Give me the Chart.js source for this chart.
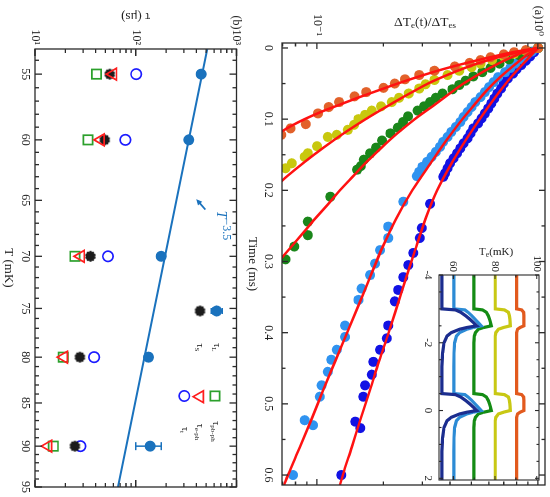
<!DOCTYPE html>
<html>
<head>
<meta charset="utf-8">
<script src="https://cdn.jsdelivr.net/npm/chart.js@4.4.1/dist/chart.umd.min.js"></script>
<style>
  html, body { margin: 0; padding: 0; overflow: hidden; background: #fff; width: 550px; height: 497px; }
  /* the figure is laid out upright and then turned a quarter turn clockwise */
  #fig { position: absolute; left: 0; top: 0; width: 497px; height: 550px;
         transform-origin: 0 0; transform: translate(550px, 0) rotate(90deg); }
  #fig canvas { position: absolute; }
</style>
</head>
<body>
<div id="fig">
  <canvas id="cA" width="497" height="310" style="left:0;top:0;width:497px;height:310px"></canvas>
  <canvas id="cB" width="497" height="245" style="left:0;top:305px;width:497px;height:245px"></canvas>
  <canvas id="cI" width="265" height="135" style="left:225px;top:0;width:265px;height:135px"></canvas>
</div>
<script>
// ---- panel (a): relaxation curves, time in ms, ratio dTe(t)/dTes ----
const ORANGE_T = [0, 0.003, 0.006, 0.009, 0.013, 0.017, 0.021, 0.026, 0.032, 0.038, 0.044, 0.050, 0.056, 0.062, 0.068, 0.076, 0.083, 0.092, 0.107, 0.113, 0.122]
const ORANGE_V = [1.0, 0.88, 0.78, 0.70, 0.61, 0.55, 0.49, 0.42, 0.34, 0.29, 0.25, 0.225, 0.20, 0.167, 0.148, 0.126, 0.113, 0.101, 0.089, 0.076, 0.069]
const YELLOW_T = [0, 0.004, 0.008, 0.012, 0.017, 0.022, 0.027, 0.032, 0.038, 0.045, 0.051, 0.057, 0.064, 0.070, 0.076, 0.082, 0.088, 0.094, 0.100, 0.108, 0.115, 0.122, 0.125, 0.138, 0.148, 0.153, 0.162, 0.169]
const YELLOW_V = [1.0, 0.88, 0.78, 0.70, 0.62, 0.55, 0.50, 0.44, 0.39, 0.34, 0.31, 0.29, 0.26, 0.235, 0.218, 0.195, 0.177, 0.165, 0.154, 0.147, 0.138, 0.123, 0.112, 0.100, 0.091, 0.088, 0.077, 0.072]
const GREEN_T = [0, 0.005, 0.010, 0.016, 0.022, 0.028, 0.034, 0.040, 0.046, 0.052, 0.058, 0.064, 0.070, 0.076, 0.082, 0.088, 0.096, 0.104, 0.112, 0.120, 0.130, 0.140, 0.148, 0.157, 0.166, 0.171, 0.209, 0.244, 0.263, 0.279, 0.297]
const GREEN_V = [1.0, 0.90, 0.82, 0.74, 0.67, 0.61, 0.56, 0.51, 0.47, 0.44, 0.41, 0.37, 0.345, 0.325, 0.305, 0.285, 0.258, 0.245, 0.232, 0.215, 0.197, 0.185, 0.174, 0.163, 0.158, 0.152, 0.115, 0.091, 0.091, 0.079, 0.072]
const LBLUE_T = [0, 0.005, 0.010, 0.016, 0.022, 0.028, 0.034, 0.041, 0.048, 0.055, 0.062, 0.069, 0.076, 0.083, 0.090, 0.097, 0.104, 0.111, 0.118, 0.125, 0.132, 0.139, 0.146, 0.153, 0.160, 0.167, 0.174, 0.180, 0.216, 0.251, 0.267, 0.284, 0.303, 0.319, 0.338, 0.354, 0.390, 0.406, 0.424, 0.438, 0.455, 0.474, 0.490, 0.523, 0.530, 0.600]
const LBLUE_V = [1.0, 0.94, 0.89, 0.84, 0.79, 0.75, 0.71, 0.66, 0.63, 0.60, 0.575, 0.55, 0.52, 0.50, 0.48, 0.46, 0.445, 0.425, 0.405, 0.39, 0.372, 0.36, 0.345, 0.33, 0.315, 0.30, 0.29, 0.283, 0.246, 0.21, 0.21, 0.193, 0.183, 0.174, 0.159, 0.154, 0.134, 0.134, 0.123, 0.116, 0.112, 0.105, 0.103, 0.088, 0.096, 0.078]
const DBLUE_T = [0, 0.006, 0.012, 0.018, 0.024, 0.030, 0.036, 0.043, 0.050, 0.057, 0.064, 0.071, 0.078, 0.085, 0.092, 0.099, 0.106, 0.113, 0.120, 0.127, 0.134, 0.141, 0.148, 0.155, 0.162, 0.169, 0.176, 0.181, 0.219, 0.253, 0.267, 0.288, 0.305, 0.322, 0.340, 0.356, 0.390, 0.408, 0.424, 0.441, 0.459, 0.474, 0.490, 0.525, 0.534, 0.600]
const DBLUE_V = [1.0, 0.96, 0.92, 0.88, 0.84, 0.80, 0.77, 0.73, 0.70, 0.68, 0.655, 0.635, 0.615, 0.595, 0.575, 0.555, 0.535, 0.51, 0.495, 0.48, 0.46, 0.445, 0.43, 0.415, 0.40, 0.39, 0.38, 0.373, 0.325, 0.298, 0.292, 0.273, 0.259, 0.246, 0.233, 0.225, 0.21, 0.207, 0.193, 0.18, 0.177, 0.165, 0.162, 0.149, 0.157, 0.129]

// red fit curves
const ORANGE_FIT_T = [0, 0.005, 0.01, 0.02, 0.03, 0.04, 0.05, 0.06, 0.07, 0.08, 0.09, 0.10, 0.11, 0.12, 0.13]
const ORANGE_FIT_V = [1, 0.80, 0.67, 0.49, 0.37, 0.29, 0.232, 0.188, 0.153, 0.126, 0.104, 0.088, 0.076, 0.067, 0.059]
const YELLOW_FIT_T = [0, 0.005, 0.01, 0.02, 0.03, 0.04, 0.05, 0.06, 0.07, 0.08, 0.09, 0.10, 0.12, 0.14, 0.16, 0.18, 0.19]
const YELLOW_FIT_V = [1, 0.84, 0.72, 0.555, 0.45, 0.375, 0.318, 0.277, 0.242, 0.213, 0.1875, 0.166, 0.132, 0.107, 0.088, 0.0734, 0.0676]
const GREEN_FIT_T = [0, 0.005, 0.01, 0.02, 0.03, 0.04, 0.05, 0.06, 0.08, 0.10, 0.12, 0.14, 0.16, 0.18, 0.20, 0.22, 0.24, 0.26, 0.28, 0.30, 0.31]
const GREEN_FIT_V = [1, 0.88, 0.80, 0.68, 0.59, 0.52, 0.46, 0.415, 0.34, 0.277, 0.231, 0.196, 0.168, 0.146, 0.127, 0.112, 0.098, 0.0865, 0.0762, 0.0671, 0.063]
const LBLUE_FIT_T = [0, 0.01, 0.02, 0.04, 0.06, 0.08, 0.10, 0.13, 0.16, 0.20, 0.24, 0.28, 0.32, 0.36, 0.40, 0.44, 0.48, 0.52, 0.56, 0.60, 0.614]
const LBLUE_FIT_V = [1, 0.89, 0.81, 0.68, 0.585, 0.515, 0.455, 0.385, 0.33, 0.27, 0.228, 0.198, 0.175, 0.155, 0.137, 0.121, 0.107, 0.095, 0.084, 0.074, 0.071]
const DBLUE_FIT_T = [0, 0.02, 0.04, 0.06, 0.08, 0.10, 0.13, 0.16, 0.20, 0.24, 0.28, 0.32, 0.36, 0.40, 0.44, 0.48, 0.52, 0.56, 0.60, 0.614]
const DBLUE_FIT_V = [1, 0.87, 0.76, 0.675, 0.605, 0.545, 0.47, 0.41, 0.35, 0.31, 0.281, 0.255, 0.232, 0.211, 0.191, 0.174, 0.158, 0.144, 0.131, 0.127]

const TIME_MAJOR = [0, 0.1, 0.2, 0.3, 0.4, 0.5, 0.6]
const TIME_LABELS = ['0', '0.1', '0.2', '0.3', '0.4', '0.5', '0.6']
const TIME_MINOR = [0.05, 0.15, 0.25, 0.35, 0.45, 0.55]
const RATIO_MAJOR = [0.1, 1]
const RATIO_LABELS = ['10⁻¹', '(a)10⁰']
const RATIO_MINOR = [0.07, 0.08, 0.09, 0.2, 0.3, 0.4, 0.5, 0.6, 0.7, 0.8, 0.9]

// ---- inset: electron temperature traces, time in ms ----
const INSET_T = [-4, -3.0, -2.97, -2.9, -2.8, -2.7, -2.6, -2.5, -2.45, -2.4, -2.3, -2.2, -2.0, -1.7, -1.3,
                 -0.5, -0.47, -0.4, -0.3, -0.2, -0.1, 0.0, 0.05, 0.1, 0.2, 0.3, 0.5, 0.8, 1.2, 2.05]
const TE_55 = [54.5, 54.5, 61, 63.5, 65.8, 67.8, 69.6, 71.2, 66.5, 63, 59, 57, 55.5, 54.8, 54.5,
               54.5, 61, 63.5, 65.8, 67.8, 69.6, 71.2, 66.5, 63, 59, 57, 55.5, 54.8, 54.5, 54.5]
const TE_60 = [60.2, 60.2, 65.5, 67, 68.8, 70.3, 71.8, 73.3, 69.5, 66.5, 63, 61.5, 60.6, 60.3, 60.2,
               60.2, 65.5, 67, 68.8, 70.3, 71.8, 73.3, 69.5, 66.5, 63, 61.5, 60.6, 60.3, 60.2, 60.2]
const TE_70 = [69.8, 69.8, 74, 75.8, 76.7, 77.3, 77.8, 78.2, 74.5, 72, 70.6, 70.1, 69.8, 69.8, 69.8,
               69.8, 74, 75.8, 76.7, 77.3, 77.8, 78.2, 74.5, 72, 70.6, 70.1, 69.8, 69.8, 69.8, 69.8]
const TE_80 = [80.1, 80.1, 84.5, 86.4, 86.9, 87.1, 87.2, 87.3, 84, 81.6, 80.4, 80.1, 80.1, 80.1, 80.1,
               80.1, 84.5, 86.4, 86.9, 87.1, 87.2, 87.3, 84, 81.6, 80.4, 80.1, 80.1, 80.1, 80.1, 80.1]
const TE_90 = [90.4, 90.4, 92.8, 93.7, 93.8, 93.8, 93.8, 93.8, 92, 90.8, 90.4, 90.4, 90.4, 90.4, 90.4,
               90.4, 92.8, 93.7, 93.8, 93.8, 93.8, 93.8, 92, 90.8, 90.4, 90.4, 90.4, 90.4, 90.4, 90.4]
const INSET_TIME_MAJOR = [-4, -2, 0, 2]
const INSET_TIME_LABELS = ['-4', '-2', '0', '2']
const INSET_TIME_MINOR = [-3.5, -3, -2.5, -1.5, -1, -0.5, 0.5, 1, 1.5]
const INSET_TE_MAJOR = [60, 80, 100]
const INSET_TE_LABELS = ['60', '80', '100']
const INSET_TE_MINOR = [70, 90]

// ---- panel (b): time constants vs temperature ----
const T_MK = [55, 60, 70, 80, 90]
const TAU_L = [446, 336, 179, 134, 139]
const TAU_L_LO = [null, null, null, null, 100]
const TAU_L_HI = [null, null, null, null, 179]
const TAU_S = [55.2, 49.2, 35.5, 27.9, 24.9]
const TAU_EPH = [59.6, 45.0, 28.5, 19.4, 13.5]
const TAU_PBPH = [40.8, 33.6, 24.9, 19.1, 15.2]
const TAU_T = [101, 78.9, 53.0, 38.6, 28.3]
const FIT_T = [53.2, 95]
const FIT_TAU = [514, 66.7]
const ARROW_FROM = [65.8, 490]
const ARROW_TO = [64.9, 399]
const POWER_LABEL_AT = [65.9, 690]

const T_MAJOR = [55, 60, 65, 70, 75, 80, 85, 90, 95]
const T_LABELS = ['55', '60', '65', '70', '75', '80', '85', '90', '95']
const T_MINOR = [54, 56, 57, 58, 59, 61, 62, 63, 64, 66, 67, 68, 69, 71, 72, 73, 74, 76, 77, 78, 79,
                 81, 82, 83, 84, 86, 87, 88, 89, 91, 92, 93, 94]
const TAU_MAJOR = [10, 100, 1000]
const TAU_LABELS = ['10¹', '10²', '(b)10³']
const TAU_MINOR = [20, 30, 40, 50, 60, 70, 80, 90, 200, 300, 400, 500, 600, 700, 800, 900]

const SERIF = "'Liberation Serif', 'DejaVu Serif', serif"
const INK = '#222'
const TAU_L_COLOR = '#1a72bd'

Chart.defaults.font.family = SERIF
Chart.defaults.color = INK

function pts(xs, ys) { return xs.map((x, i) => ({x: x, y: ys[i]})) }

// text with sub/superscripts, centred (or left aligned) on x, vertically centred on y
function rich(ctx, parts, x, y, size, color, rot, align) {
  ctx.save()
  ctx.translate(x, y)
  ctx.rotate(rot || 0)
  ctx.fillStyle = color
  ctx.textBaseline = 'middle'
  ctx.textAlign = 'left'
  const fontOf = p => (p.it ? 'italic ' : '') +
    (p.size || ((p.sub || p.sup) ? Math.round(size * 0.7) : size)) + 'px ' + SERIF
  let w = 0
  for (const p of parts) { ctx.font = fontOf(p); w += ctx.measureText(p.t).width }
  let cx = align === 'left' ? 0 : -w / 2
  for (const p of parts) {
    ctx.font = fontOf(p)
    const dy = p.sub ? size * 0.3 : (p.sup ? -size * 0.4 : 0)
    ctx.fillText(p.t, cx, dy)
    cx += ctx.measureText(p.t).width
  }
  ctx.restore()
}

// filled round marker with small bumps, used for tau_S
function gearCanvas(r, color) {
  const c = document.createElement('canvas')
  const s = Math.ceil(r * 2 + 2)
  c.width = c.height = s
  const g = c.getContext('2d')
  g.fillStyle = color
  g.beginPath(); g.arc(s / 2, s / 2, r * 0.72, 0, 2 * Math.PI); g.fill()
  for (let i = 0; i < 10; i++) {
    const a = i * Math.PI / 5
    g.beginPath()
    g.arc(s / 2 + Math.cos(a) * r * 0.74, s / 2 + Math.sin(a) * r * 0.74, r * 0.26, 0, 2 * Math.PI)
    g.fill()
  }
  return c
}
const GEAR = gearCanvas(5.5, '#1c1c1c')

const useTicks = vals => s => { s.ticks = vals.map(v => ({value: v})) }
function fixBox(size) {
  return s => {
    if (s.isHorizontal()) s.height = size; else s.width = size
    s.paddingLeft = s.paddingRight = s.paddingTop = s.paddingBottom = 0
  }
}

// frame round the plot area with inward ticks on all four sides
const frameTicks = {
  id: 'frameTicks',
  afterDatasetsDraw(chart, args, o) {
    const {ctx, chartArea: a, scales} = chart
    ctx.save()
    ctx.strokeStyle = '#2a2a2a'
    ctx.lineWidth = o.width
    ctx.strokeRect(a.left, a.top, a.right - a.left, a.bottom - a.top)
    const mark = (scale, vals, len) => {
      for (const v of vals) {
        const p = scale.getPixelForValue(v)
        ctx.beginPath()
        if (scale.isHorizontal()) {
          ctx.moveTo(p, a.bottom); ctx.lineTo(p, a.bottom - len)
          ctx.moveTo(p, a.top); ctx.lineTo(p, a.top + len)
        } else {
          ctx.moveTo(a.left, p); ctx.lineTo(a.left + len, p)
          ctx.moveTo(a.right, p); ctx.lineTo(a.right - len, p)
        }
        ctx.stroke()
      }
    }
    mark(scales.x, o.xMajor, o.major); mark(scales.x, o.xMinor, o.minor)
    mark(scales.y, o.yMajor, o.major); mark(scales.y, o.yMinor, o.minor)
    ctx.restore()
  }
}

const baseOptions = {
  responsive: false,
  animation: false,
  events: [],
}

function axis(type, min, max, major, labels, box, tickPad, fontSize) {
  return {
    type: type, min: min, max: max,
    grid: {display: false, drawTicks: false},
    border: {display: false},
    ticks: {autoSkip: false, maxRotation: 0, padding: tickPad, color: INK,
            font: {family: SERIF, size: fontSize}, callback: (v, i) => labels[i]},
    afterBuildTicks: useTicks(major),
    afterFit: fixBox(box),
  }
}

// ---------- panel (a) ----------
const SERIES_A = [
  {t: ORANGE_T, v: ORANGE_V, ft: ORANGE_FIT_T, fv: ORANGE_FIT_V, color: '#e2612a'},
  {t: YELLOW_T, v: YELLOW_V, ft: YELLOW_FIT_T, fv: YELLOW_FIT_V, color: '#c8c80e'},
  {t: GREEN_T, v: GREEN_V, ft: GREEN_FIT_T, fv: GREEN_FIT_V, color: '#1a861a'},
  {t: LBLUE_T, v: LBLUE_V, ft: LBLUE_FIT_T, fv: LBLUE_FIT_V, color: '#2f93f0'},
  {t: DBLUE_T, v: DBLUE_V, ft: DBLUE_FIT_T, fv: DBLUE_FIT_V, color: '#1212e4'},
]
const fitSets = SERIES_A.map(s => ({
  data: pts(s.ft, s.fv), showLine: true, borderColor: '#ff1212', borderWidth: 2.5,
  pointRadius: 0, cubicInterpolationMode: 'monotone', clip: 0,
}))
const dotSets = SERIES_A.map(s => ({
  data: pts(s.t, s.v), showLine: false, pointRadius: 5, pointHoverRadius: 5,
  pointBackgroundColor: s.color, pointBorderWidth: 0,
}))

const xA = axis('linear', -0.007, 0.614, TIME_MAJOR, TIME_LABELS, 42, 7, 12)
xA.title = {display: true, text: 'Time (ms)', color: INK, font: {family: SERIF, size: 13}, padding: {top: 0, bottom: 5}}
const yA = axis('logarithmic', 0.0695, 1.076, RATIO_MAJOR, RATIO_LABELS, 43, 7, 12)

new Chart(document.getElementById('cA'), {
  type: 'scatter',
  data: {datasets: fitSets.concat(dotSets)},
  options: Object.assign({}, baseOptions, {
    layout: {padding: {top: 5, right: 12, left: 0, bottom: 0}},
    scales: {x: xA, y: yA},
    plugins: {
      legend: {display: false}, tooltip: {enabled: false},
      frameTicks: {width: 1.3, major: 6, minor: 3.5, xMajor: TIME_MAJOR, xMinor: TIME_MINOR,
                   yMajor: RATIO_MAJOR, yMinor: RATIO_MINOR},
    },
  }),
  plugins: [frameTicks, {
    id: 'titleA',
    afterDraw(chart) {
      rich(chart.ctx, [{t: 'ΔT'}, {t: 'e', sub: true}, {t: '(t)/ΔT'}, {t: 'es', sub: true}],
           22, 125, 13.5, INK, -Math.PI / 2)
    }
  }],
})

// ---------- inset ----------
const INSET_SERIES = [
  {v: TE_55, color: '#1b2d8f'},
  {v: TE_60, color: '#2c8bd5'},
  {v: TE_70, color: '#148c14'},
  {v: TE_80, color: '#c8c814'},
  {v: TE_90, color: '#e25a1e'},
]
new Chart(document.getElementById('cI'), {
  type: 'scatter',
  data: {datasets: INSET_SERIES.map(s => ({
    data: pts(INSET_T, s.v), showLine: true, borderColor: s.color, borderWidth: 3.2, pointRadius: 0, clip: 0,
  }))},
  options: Object.assign({}, baseOptions, {
    layout: {padding: {top: 11, right: 10, left: 0, bottom: 0}},
    scales: {
      x: axis('linear', -4, 2.05, INSET_TIME_MAJOR, INSET_TIME_LABELS, 24, 4.4, 11),
      y: axis('linear', 53.1, 101.1, INSET_TE_MAJOR, INSET_TE_LABELS, 50, 3, 11),
    },
    plugins: {
      legend: {display: false}, tooltip: {enabled: false},
      frameTicks: {width: 1.1, major: 4, minor: 2.5, xMajor: INSET_TIME_MAJOR, xMinor: INSET_TIME_MINOR,
                   yMajor: INSET_TE_MAJOR, yMinor: INSET_TE_MINOR},
    },
  }),
  plugins: [frameTicks, {
    id: 'insetBits',
    beforeDraw(chart) {
      const {ctx, chartArea: a} = chart
      ctx.save(); ctx.fillStyle = '#fff'
      ctx.fillRect(a.left, a.top, a.right - a.left, a.bottom - a.top)
      ctx.restore()
    },
    afterDraw(chart) {
      rich(chart.ctx, [{t: 'T'}, {t: 'e', sub: true}, {t: '(mK)'}], 27, 54, 11, INK, -Math.PI / 2)
    }
  }],
})

// ---------- panel (b) ----------
const LEGEND_B = [
  {kind: 'L', x: 311, y: 28.3, lx: 347.5, ly: 28.5, text: [{t: 'τ'}, {t: 'L', sub: true}]},
  {kind: 'S', x: 311, y: 45, lx: 347.5, ly: 45.5, text: [{t: 'τ'}, {t: 'S', sub: true}]},
  {kind: 'pbph', x: 396, y: 30, lx: 431.5, ly: 29, text: [{t: 'τ'}, {t: 'pb-ph', sub: true}]},
  {kind: 'eph', x: 396.7, y: 45, lx: 432, ly: 45, text: [{t: 'τ'}, {t: 'e-ph', sub: true}]},
  {kind: 't', x: 396, y: 60.7, lx: 430, ly: 60.5, text: [{t: 'τ'}, {t: 't', sub: true}]},
]
const MARK = {
  L: {pointStyle: 'circle', radius: 5.5, fill: TAU_L_COLOR, stroke: TAU_L_COLOR, bw: 0},
  S: {pointStyle: GEAR, radius: 5.5, fill: '#1c1c1c', stroke: '#1c1c1c', bw: 0},
  pbph: {pointStyle: 'rect', radius: 6.6, fill: 'rgba(0,0,0,0)', stroke: '#2ca02c', bw: 1.7},
  eph: {pointStyle: 'triangle', radius: 6.8, rotation: 180, fill: 'rgba(0,0,0,0)', stroke: '#ff1e1e', bw: 1.7},
  t: {pointStyle: 'circle', radius: 5.2, fill: 'rgba(0,0,0,0)', stroke: '#1c1cff', bw: 1.7},
}
function markerSet(vals, m) {
  return {
    data: pts(T_MK, vals), showLine: false, pointStyle: m.pointStyle, pointRadius: m.radius,
    pointHoverRadius: m.radius, pointRotation: m.rotation || 0,
    pointBackgroundColor: m.fill, pointBorderColor: m.stroke, pointBorderWidth: m.bw,
  }
}

const xB = axis('logarithmic', 53.2, 95, T_MAJOR, T_LABELS, 35, 3, 12)
xB.title = {display: true, text: 'T (mK)', color: INK, font: {family: SERIF, size: 13}, padding: {top: 0, bottom: 1}}
const yB = axis('logarithmic', 10, 1000, TAU_MAJOR, TAU_LABELS, 49, 4, 12)

function errBar(ctx, x, y0, y1, cap) {
  ctx.beginPath()
  ctx.moveTo(x, y0); ctx.lineTo(x, y1)
  ctx.moveTo(x - cap, y0); ctx.lineTo(x + cap, y0)
  ctx.moveTo(x - cap, y1); ctx.lineTo(x + cap, y1)
  ctx.stroke()
}

new Chart(document.getElementById('cB'), {
  type: 'scatter',
  data: {datasets: [
    markerSet(TAU_EPH, MARK.eph),
    markerSet(TAU_S, MARK.S),
    markerSet(TAU_PBPH, MARK.pbph),
    markerSet(TAU_T, MARK.t),
    markerSet(TAU_L, MARK.L),
    {data: pts(FIT_T, FIT_TAU), showLine: true, borderColor: TAU_L_COLOR, borderWidth: 2, pointRadius: 0, clip: 0},
  ]},
  options: Object.assign({}, baseOptions, {
    layout: {padding: {top: 8, right: 10, left: 0, bottom: 0}},
    scales: {x: xB, y: yB},
    plugins: {
      legend: {display: false}, tooltip: {enabled: false},
      frameTicks: {width: 1.3, major: 7, minor: 4, xMajor: T_MAJOR, xMinor: T_MINOR,
                   yMajor: TAU_MAJOR, yMinor: TAU_MINOR},
    },
  }),
  plugins: [frameTicks, {
    id: 'panelBExtras',
    beforeDatasetsDraw(chart) {
      const {ctx, scales: {x, y}} = chart
      ctx.save(); ctx.strokeStyle = TAU_L_COLOR; ctx.lineWidth = 1.5
      T_MK.forEach((t, i) => {
        if (TAU_L_LO[i] == null) return
        errBar(ctx, x.getPixelForValue(t), y.getPixelForValue(TAU_L_LO[i]), y.getPixelForValue(TAU_L_HI[i]), 4)
      })
      ctx.restore()
    },
    afterDraw(chart) {
      const {ctx, chartArea: a, scales: {x, y}} = chart
      rich(ctx, [{t: 'τ (μs)'}], 16, (a.top + a.bottom) / 2, 13, INK, Math.PI / 2)

      // arrow and power-law label
      const x0 = x.getPixelForValue(ARROW_FROM[0]), y0 = y.getPixelForValue(ARROW_FROM[1])
      const x1 = x.getPixelForValue(ARROW_TO[0]), y1 = y.getPixelForValue(ARROW_TO[1])
      const ang = Math.atan2(y1 - y0, x1 - x0)
      ctx.save()
      ctx.strokeStyle = ctx.fillStyle = TAU_L_COLOR
      ctx.lineWidth = 1.7
      ctx.beginPath(); ctx.moveTo(x0, y0); ctx.lineTo(x1 - Math.cos(ang) * 3, y1 - Math.sin(ang) * 3); ctx.stroke()
      ctx.beginPath()
      ctx.moveTo(x1, y1)
      ctx.lineTo(x1 - Math.cos(ang - 0.45) * 6.5, y1 - Math.sin(ang - 0.45) * 6.5)
      ctx.lineTo(x1 - Math.cos(ang + 0.45) * 6.5, y1 - Math.sin(ang + 0.45) * 6.5)
      ctx.closePath(); ctx.fill()
      ctx.restore()
      rich(ctx, [{t: 'T', it: true}, {t: '−3.5', sup: true, size: 12}],
           x.getPixelForValue(POWER_LABEL_AT[0]), y.getPixelForValue(POWER_LABEL_AT[1]), 14, TAU_L_COLOR, 0, 'left')

      // legend
      const draw = Chart.helpers.drawPoint
      for (const it of LEGEND_B) {
        const m = MARK[it.kind]
        ctx.save()
        if (it.kind === 'L') {
          ctx.strokeStyle = TAU_L_COLOR; ctx.lineWidth = 1.5
          errBar(ctx, it.x, it.y - 5.5, it.y + 5.5, 3)
        }
        ctx.fillStyle = m.fill; ctx.strokeStyle = m.stroke; ctx.lineWidth = m.bw
        draw(ctx, {pointStyle: m.pointStyle, radius: m.radius, rotation: m.rotation || 0, borderWidth: m.bw}, it.x, it.y)
        ctx.restore()
        rich(ctx, it.text, it.lx, it.ly, 10, INK, 0)
      }
    }
  }],
})
</script>
</body>
</html>
